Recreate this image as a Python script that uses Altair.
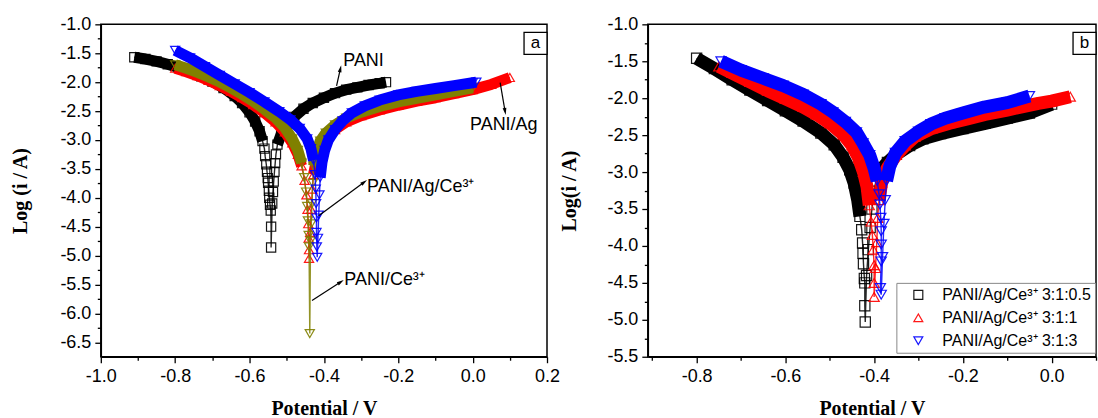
import math
import altair as alt
import pandas as pd

# ---------------- Panel a data (Potential / V, Log(i/A)) ----------------
A_NAMES = ["PANI", "PANI/Ag", "PANI/Ce³⁺", "PANI/Ag/Ce³⁺"]
A_COLORS = ["#000000", "#ff0000", "#808000", "#0000ff"]
A_SHAPES = ["square", "triangle-up", "triangle-down", "triangle-down"]

A_PANI_CATH = [(-0.91, -1.57), (-0.88, -1.60), (-0.85, -1.64), (-0.82, -1.69), (-0.79, -1.75),
               (-0.76, -1.82), (-0.73, -1.90), (-0.70, -1.99), (-0.67, -2.10), (-0.64, -2.24),
               (-0.62, -2.36), (-0.60, -2.52), (-0.585, -2.68), (-0.573, -2.85), (-0.565, -3.02)]
A_PANI_TIP = [(-0.560, -3.15), (-0.558, -3.28), (-0.555, -3.42), (-0.553, -3.55), (-0.551, -3.66),
              (-0.550, -3.74), (-0.548, -3.88), (-0.547, -4.00), (-0.545, -4.12), (-0.543, -4.22),
              (-0.542, -4.50), (-0.542, -4.86), (-0.539, -4.10), (-0.537, -3.90), (-0.535, -3.72),
              (-0.533, -3.55), (-0.531, -3.40), (-0.529, -3.25)]
A_PANI_ANOD = [(-0.525, -3.08), (-0.515, -2.90), (-0.50, -2.74), (-0.48, -2.60), (-0.455, -2.46),
               (-0.43, -2.36), (-0.40, -2.27), (-0.37, -2.19), (-0.34, -2.13), (-0.31, -2.09),
               (-0.28, -2.05), (-0.25, -2.02), (-0.233, -2.00)]

A_AG_CATH = [(-0.80, -1.76), (-0.77, -1.82), (-0.74, -1.89), (-0.71, -1.97), (-0.68, -2.06),
             (-0.65, -2.16), (-0.62, -2.27), (-0.59, -2.39), (-0.56, -2.53), (-0.53, -2.69),
             (-0.505, -2.86), (-0.485, -3.05), (-0.47, -3.25), (-0.46, -3.45)]
A_AG_TIP = [(-0.452, -3.70), (-0.447, -3.95), (-0.444, -4.20), (-0.442, -4.45), (-0.441, -4.70),
            (-0.440, -4.90), (-0.440, -5.05), (-0.437, -4.60), (-0.434, -4.20), (-0.431, -3.85)]
A_AG_ANOD = [(-0.428, -3.60), (-0.420, -3.35), (-0.410, -3.15), (-0.395, -2.98), (-0.37, -2.82),
             (-0.34, -2.69), (-0.30, -2.58), (-0.25, -2.48), (-0.20, -2.40), (-0.15, -2.33),
             (-0.10, -2.27), (-0.05, -2.20), (0.00, -2.13), (0.05, -2.04), (0.10, -1.92)]

A_CE_CATH = [(-0.80, -1.70), (-0.77, -1.76), (-0.74, -1.83), (-0.71, -1.91), (-0.68, -2.00),
             (-0.65, -2.10), (-0.62, -2.21), (-0.59, -2.33), (-0.56, -2.47), (-0.53, -2.62),
             (-0.505, -2.79), (-0.485, -2.98), (-0.47, -3.18), (-0.46, -3.40)]
A_CE_TIP = [(-0.453, -3.65), (-0.448, -3.90), (-0.445, -4.15), (-0.443, -4.40), (-0.441, -4.65),
            (-0.440, -4.85), (-0.438, -6.35), (-0.436, -4.75), (-0.434, -4.45), (-0.432, -4.10),
            (-0.430, -3.75)]
A_CE_ANOD = [(-0.428, -3.45), (-0.420, -3.20), (-0.410, -3.02), (-0.395, -2.88), (-0.37, -2.74),
             (-0.34, -2.62), (-0.30, -2.52), (-0.25, -2.42), (-0.20, -2.34), (-0.15, -2.28),
             (-0.10, -2.22), (-0.05, -2.16), (0.00, -2.10)]

A_AGCE_CATH = [(-0.80, -1.45), (-0.76, -1.58), (-0.72, -1.73), (-0.68, -1.88), (-0.64, -2.03),
               (-0.60, -2.18), (-0.56, -2.34), (-0.52, -2.51), (-0.49, -2.65), (-0.465, -2.80),
               (-0.445, -2.98), (-0.435, -3.15), (-0.428, -3.35)]
A_AGCE_TIP = [(-0.424, -3.60), (-0.422, -3.85), (-0.421, -4.10), (-0.420, -4.35), (-0.420, -4.60),
              (-0.419, -4.85), (-0.418, -5.03), (-0.416, -4.70), (-0.414, -4.30), (-0.412, -3.95)]
A_AGCE_ANOD = [(-0.410, -3.65), (-0.405, -3.38), (-0.398, -3.18), (-0.388, -3.00), (-0.37, -2.82),
               (-0.35, -2.67), (-0.325, -2.53), (-0.29, -2.41), (-0.25, -2.31), (-0.20, -2.22),
               (-0.15, -2.16), (-0.10, -2.11), (-0.05, -2.06), (0.00, -2.01), (0.01, -2.00)]

A_NOTE_TEXT = ["PANI", "PANI/Ag", "PANI/Ag/Ce³⁺", "PANI/Ce³⁺"]
A_NOTE_X = [-0.348, -0.007, -0.284, -0.345]
A_NOTE_Y = [-1.63, -2.74, -3.82, -5.43]
A_ARROW_X1 = [-0.366, 0.074, -0.414, -0.432]
A_ARROW_Y1 = [-2.066, -2.009, -4.311, -5.779]
A_ARROW_X2 = [-0.356, 0.087, -0.293, -0.356]
A_ARROW_Y2 = [-1.777, -2.497, -3.736, -5.463]

# ---------------- Panel b data ----------------
B_NAMES = ["PANI/Ag/Ce³⁺ 3:1:0.5", "PANI/Ag/Ce³⁺ 3:1:1", "PANI/Ag/Ce³⁺ 3:1:3"]
B_COLORS = ["#000000", "#ff0000", "#0000ff"]
B_SHAPES = ["square", "triangle-up", "triangle-down"]

B_05_CATH = [(-0.80, -1.46), (-0.76, -1.60), (-0.72, -1.75), (-0.68, -1.89), (-0.64, -2.03),
             (-0.60, -2.17), (-0.56, -2.31), (-0.52, -2.47), (-0.49, -2.63), (-0.47, -2.80),
             (-0.455, -2.97), (-0.445, -3.15), (-0.437, -3.38), (-0.432, -3.60)]
B_05_TIP = [(-0.428, -3.78), (-0.426, -3.96), (-0.425, -4.10), (-0.424, -4.24), (-0.422, -4.44),
            (-0.421, -4.50), (-0.421, -4.81), (-0.420, -5.03), (-0.417, -4.40), (-0.413, -4.05),
            (-0.409, -3.75), (-0.405, -3.50), (-0.401, -3.30)]
B_05_ANOD = [(-0.396, -3.12), (-0.388, -2.99), (-0.37, -2.87), (-0.35, -2.76), (-0.32, -2.64),
             (-0.29, -2.55), (-0.25, -2.48), (-0.20, -2.41), (-0.15, -2.34), (-0.10, -2.27),
             (-0.05, -2.20), (0.00, -2.08)]

B_1_CATH = [(-0.75, -1.57), (-0.72, -1.66), (-0.68, -1.78), (-0.64, -1.90), (-0.60, -2.01),
            (-0.56, -2.12), (-0.53, -2.22), (-0.50, -2.34), (-0.47, -2.49), (-0.45, -2.64),
            (-0.435, -2.81), (-0.424, -3.00), (-0.416, -3.20), (-0.411, -3.45)]
B_1_TIP = [(-0.407, -3.67), (-0.404, -3.85), (-0.402, -4.05), (-0.400, -4.26), (-0.400, -4.50),
           (-0.400, -4.69), (-0.397, -4.30), (-0.394, -3.95), (-0.392, -3.62)]
B_1_ANOD = [(-0.389, -3.38), (-0.383, -3.14), (-0.37, -2.94), (-0.35, -2.77), (-0.33, -2.64),
            (-0.308, -2.52), (-0.27, -2.41), (-0.23, -2.34), (-0.19, -2.28), (-0.15, -2.22),
            (-0.10, -2.16), (-0.07, -2.12), (-0.03, -2.07), (0.00, -2.04), (0.042, -1.98)]

B_3_CATH = [(-0.745, -1.50), (-0.70, -1.62), (-0.65, -1.73), (-0.605, -1.83), (-0.56, -1.95),
            (-0.52, -2.08), (-0.493, -2.19), (-0.465, -2.32), (-0.44, -2.46), (-0.425, -2.61),
            (-0.41, -2.77), (-0.40, -2.95), (-0.393, -3.12)]
B_3_TIP = [(-0.389, -3.30), (-0.387, -3.44), (-0.385, -3.62), (-0.384, -3.80), (-0.384, -3.98),
           (-0.384, -4.21), (-0.386, -4.57), (-0.384, -4.66), (-0.381, -4.15), (-0.378, -3.70),
           (-0.375, -3.38)]
B_3_ANOD = [(-0.372, -3.12), (-0.365, -2.93), (-0.352, -2.74), (-0.33, -2.58), (-0.30, -2.45),
            (-0.272, -2.35), (-0.24, -2.27), (-0.20, -2.20), (-0.152, -2.12), (-0.10, -2.06),
            (-0.05, -1.97)]

# ---------------- axis ticks ----------------
A_X_MAJOR = [-1.0, -0.8, -0.6, -0.4, -0.2, 0.0, 0.2]
A_X_MINOR = [-0.9, -0.7, -0.5, -0.3, -0.1, 0.1]
A_Y_MAJOR = [-6.5, -6.0, -5.5, -5.0, -4.5, -4.0, -3.5, -3.0, -2.5, -2.0, -1.5, -1.0]
A_Y_MINOR = [-6.25, -5.75, -5.25, -4.75, -4.25, -3.75, -3.25, -2.75, -2.25, -1.75, -1.25]
B_X_MAJOR = [-0.8, -0.6, -0.4, -0.2, 0.0]
B_X_MINOR = [-0.9, -0.7, -0.5, -0.3, -0.1, 0.1]
B_Y_MAJOR = [-5.5, -5.0, -4.5, -4.0, -3.5, -3.0, -2.5, -2.0, -1.5, -1.0]
B_Y_MINOR = [-5.25, -4.75, -4.25, -3.75, -3.25, -2.75, -2.25, -1.75, -1.25]

A_XDOM = [-1.0, 0.2]
A_YDOM = [-6.75, -1.0]
B_XDOM = [-0.91, 0.1]
B_YDOM = [-5.5, -1.0]

W_A, W_B, H = 447, 449, 333
ARROW_PATH = "M0,-1L0.45,0.7L-0.45,0.7Z"
MINUS = "\u2212"


def rows_for(name, cath, tip, anod):
    rows, k = [], 0
    for part, pts in (("c", cath), ("t", tip), ("a", anod)):
        for x, y in pts:
            rows.append({"s": name, "part": part, "arm": name + "|" + part, "x": x, "y": y, "i": k})
            k += 1
    return rows


def make_axis(values, step_mult, title, orient, title_pos):
    test = f"abs(datum.value*{step_mult} - round(datum.value*{step_mult})) < 1e-6"
    label_expr = f"({test}) ? replace(format(datum.value, '.1f'), '{MINUS}', '-') : ''"
    kw = dict(values=values, title=title, labelExpr=label_expr, grid=False,
              tickSize={"condition": {"test": test, "value": 6}, "value": 3.5},
              labelFlush=False, labelOverlap=False,
              domainColor="black", domainWidth=1.5, tickColor="black", tickWidth=1.3,
              labelFont="Liberation Sans", labelFontSize=18, labelColor="black",
              titleFont="Liberation Serif", titleFontSize=20, titleFontWeight="bold",
              titleColor="black")
    if orient == "bottom":
        kw.update(labelPadding=5, titleY=title_pos, titleBaseline="alphabetic")
    else:
        kw.update(labelPadding=4, titleX=title_pos, titleY=H / 2, titleBaseline="middle",
                  titleAlign="center", titleAngle=270)
    return alt.Axis(**kw)


def panel(df, names, colors, shapes, xdom, ydom, xaxis, yaxis, legend, band_w, msize):
    xs = alt.Scale(domain=xdom, nice=False, zero=False)
    ys = alt.Scale(domain=ydom, nice=False, zero=False)
    cs = alt.Scale(domain=names, range=colors)
    ss = alt.Scale(domain=names, range=shapes)
    X = alt.X("x:Q", scale=xs, axis=xaxis)
    Y = alt.Y("y:Q", scale=ys, axis=yaxis)
    layers = []
    for j, name in enumerate(names):
        base = alt.Chart(df).transform_filter(alt.FieldEqualPredicate(field="s", equal=name))
        thin = base.mark_line(strokeWidth=1.4, opacity=0.85, color=colors[j]).encode(
            x=X, y=Y, order="i:Q")
        band = base.transform_filter("datum.part != 't'").mark_line(
            strokeWidth=band_w, strokeJoin="round", strokeCap="butt", color=colors[j]).encode(
            x=X, y=Y, detail="arm:N", order="i:Q")
        pts = base.mark_point(filled=False, size=msize, strokeWidth=1.2, opacity=0.9).encode(
            x=X, y=Y,
            color=alt.Color("s:N", scale=cs, legend=legend),
            shape=alt.Shape("s:N", scale=ss, legend=legend))
        layers += [thin, band, pts]
    return layers, xs, ys


def label_box(letter, width):
    d = pd.DataFrame({"t": [letter]})
    rect = alt.Chart(d).mark_rect(fill="white", stroke="black", strokeWidth=1.3).encode(
        x=alt.value(width - 23), x2=alt.value(width), y=alt.value(8), y2=alt.value(30))
    txt = alt.Chart(d).mark_text(font="Liberation Sans", fontSize=17, color="black").encode(
        x=alt.value(width - 11.5), y=alt.value(19), text="t:N")
    return [rect, txt]


# ---------------- build panel a ----------------
rows_a = []
rows_a += rows_for(A_NAMES[0], A_PANI_CATH, A_PANI_TIP, A_PANI_ANOD)
rows_a += rows_for(A_NAMES[1], A_AG_CATH, A_AG_TIP, A_AG_ANOD)
rows_a += rows_for(A_NAMES[2], A_CE_CATH, A_CE_TIP, A_CE_ANOD)
rows_a += rows_for(A_NAMES[3], A_AGCE_CATH, A_AGCE_TIP, A_AGCE_ANOD)
df_a = pd.DataFrame(rows_a)

xaxis_a = make_axis(A_X_MAJOR + A_X_MINOR, 5, "Potential / V", "bottom", 58)
yaxis_a = make_axis(A_Y_MAJOR + A_Y_MINOR, 2, "Log (i / A)", "left", -80)
layers_a, xs_a, ys_a = panel(df_a, A_NAMES, A_COLORS, A_SHAPES, A_XDOM, A_YDOM,
                             xaxis_a, yaxis_a, None, 11, 85)

sx = W_A / (A_XDOM[1] - A_XDOM[0])
sy = H / (A_YDOM[1] - A_YDOM[0])
angles = []
for x1, y1, x2, y2 in zip(A_ARROW_X1, A_ARROW_Y1, A_ARROW_X2, A_ARROW_Y2):
    dx = (x2 - x1) * sx
    dy = -(y2 - y1) * sy
    angles.append(math.degrees(math.atan2(dx, -dy)) % 360)

notes = pd.DataFrame({"t": A_NOTE_TEXT, "x": A_NOTE_X, "y": A_NOTE_Y,
                      "x1": A_ARROW_X1, "y1": A_ARROW_Y1, "x2": A_ARROW_X2, "y2": A_ARROW_Y2,
                      "ang": angles})
rules = alt.Chart(notes).mark_rule(color="black", strokeWidth=1.2).encode(
    x=alt.X("x1:Q", scale=xs_a, axis=xaxis_a), y=alt.Y("y1:Q", scale=ys_a, axis=yaxis_a),
    x2="x2:Q", y2="y2:Q")
heads = alt.Chart(notes).mark_point(shape=ARROW_PATH, filled=True, size=70, color="black",
                                    opacity=1).encode(
    x=alt.X("x2:Q", scale=xs_a, axis=xaxis_a), y=alt.Y("y2:Q", scale=ys_a, axis=yaxis_a),
    angle=alt.Angle("ang:Q", scale=None))
texts = alt.Chart(notes).mark_text(align="left", baseline="middle", font="Liberation Sans",
                                   fontSize=18, color="black").encode(
    x=alt.X("x:Q", scale=xs_a, axis=xaxis_a), y=alt.Y("y:Q", scale=ys_a, axis=yaxis_a), text="t:N")

chart_a = alt.layer(*layers_a, rules, heads, texts, *label_box("a", W_A)).properties(
    width=W_A, height=H)

# ---------------- build panel b ----------------
rows_b = []
rows_b += rows_for(B_NAMES[0], B_05_CATH, B_05_TIP, B_05_ANOD)
rows_b += rows_for(B_NAMES[1], B_1_CATH, B_1_TIP, B_1_ANOD)
rows_b += rows_for(B_NAMES[2], B_3_CATH, B_3_TIP, B_3_ANOD)
df_b = pd.DataFrame(rows_b)

xaxis_b = make_axis(B_X_MAJOR + B_X_MINOR, 5, "Potential / V", "bottom", 58)
yaxis_b = make_axis(B_Y_MAJOR + B_Y_MINOR, 2, "Log(i / A)", "left", -78)
legend_b = alt.Legend(title=None, orient="none", legendX=249, legendY=259,
                      labelFont="Liberation Sans", labelFontSize=16, labelColor="black",
                      labelLimit=260, symbolSize=80, symbolStrokeWidth=1.2,
                      strokeColor="#888888", fillColor="white", padding=4,
                      rowPadding=7, symbolOffset=10, labelOffset=16)
layers_b, xs_b, ys_b = panel(df_b, B_NAMES, B_COLORS, B_SHAPES, B_XDOM, B_YDOM,
                             xaxis_b, yaxis_b, legend_b, 13, 105)
chart_b = alt.layer(*layers_b, *label_box("b", W_B)).properties(width=W_B, height=H)

chart = alt.hconcat(chart_a, chart_b, spacing=101, bounds="flush").resolve_scale(
    color="independent", shape="independent").properties(
    padding={"left": 10, "top": 14, "right": 0, "bottom": 0}
).configure_view(stroke="black", strokeWidth=1.5)

chart.save("out.html", embed_options={"renderer": "svg", "actions": False})
